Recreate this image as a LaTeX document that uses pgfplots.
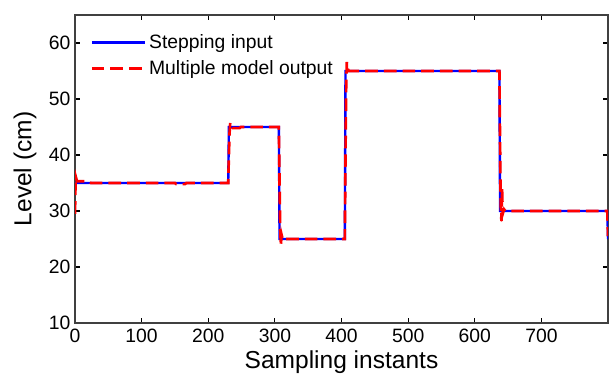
\documentclass[border=0pt]{standalone}
\usepackage{fontspec}
\setmainfont{Liberation Sans}
\usepackage{pgfplots}
\pgfplotsset{compat=1.18}
\begin{document}
\begin{tikzpicture}
\begin{axis}[name=ax, scale only axis, width=399.75pt, height=231pt,
  xmin=0, xmax=800, ymin=10, ymax=65,
  xtick={0,100,...,700}, ytick={10,20,...,60},
  tick pos=both, tick align=inside, major tick length=3.75pt,
  axis line style={draw=black!75, line width=0.8pt},
  tick style={black, line width=0.8pt},
  tick label style={font=\fontsize{14.5}{17}\selectfont, /pgf/number format/assume math mode=true},
  xticklabel style={yshift=-1pt},
  xlabel={Sampling instants}, ylabel={Level (cm)},
  label style={font=\fontsize{18.4}{22}\selectfont},
  xlabel style={at={(axis description cs:0.5,-0.127)}, anchor=center},
  ylabel style={at={(axis description cs:-0.094,0.5)}, anchor=center},
  legend style={at={(axis description cs:0.021,0.955)}, anchor=north west, draw=none, fill=none,
    font=\fontsize{14.5}{17}\selectfont, row sep=3.5pt},
  legend cell align=left,
  legend image code/.code={\draw[#1] (0pt,0pt) -- (40pt,0pt);},
]
\addplot[blue, line width=1.8pt] coordinates {
(0,35) (230,35) (231,45) (306,45) (307,25) (405,25) (406,55) (637,55) (638,30) (799,30) (800,25)
};
\addlegendentry{Stepping input}
\addplot[red, line width=2pt, dash pattern=on 9.5pt off 4.5pt] coordinates {
(0,29.5) (1,36.2) (3,35.3) (20,35.3) (24,35) (150,35) (152,34.8) (165,34.8) (167,35) (230,35)
(231,40) (232,44) (233,45.8) (235,45) (237,44.8) (247,44.8) (249,45) (306,45)
(307,35) (308,27) (309,23.8) (310,25.8) (312,24.8) (314,25) (405,25)
(406,40) (407,52) (408,56.6) (409,55.5) (411,55) (637,55)
(638,42) (639,31) (640,28.2) (641,34) (642,29.5) (644,30.3) (646,30) (799,30) (800,25.5)
};
\addlegendentry{Multiple model output}
\end{axis}
\pgfresetboundingbox
\path ([xshift=-56.25pt,yshift=-42pt]ax.south west) rectangle ([xshift=1.5pt,yshift=11.25pt]ax.north east);
\end{tikzpicture}
\end{document}
